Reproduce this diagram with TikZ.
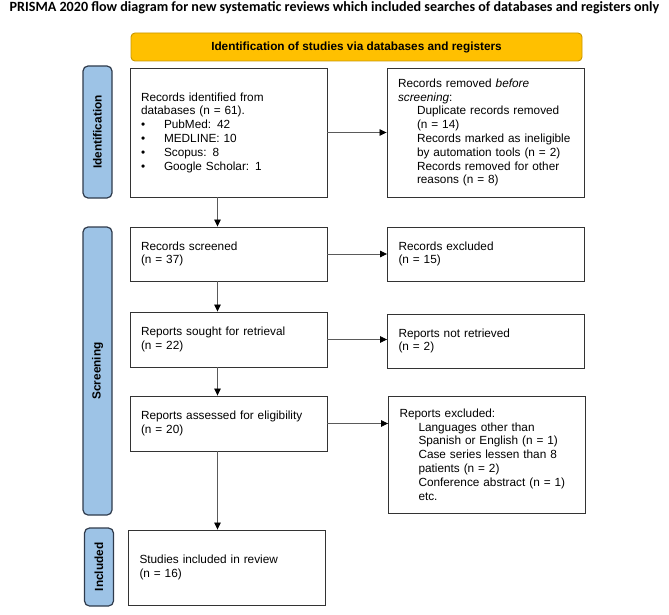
\documentclass[tikz,border=0pt]{standalone}
\usepackage{fontspec}
\setmainfont{Liberation Sans}
\newfontfamily\titlefont{Carlito}
\usepackage{xcolor}
\usetikzlibrary{arrows.meta,positioning,calc}

\definecolor{bannerfill}{HTML}{FFC000}
\definecolor{bannerline}{HTML}{C99700}
\definecolor{sidefill}{HTML}{9DC3E6}
\definecolor{sideline}{HTML}{2F3B4C}
\definecolor{arrline}{HTML}{5A5A5A}

\newcommand{\indt}{\hspace*{19pt}}
\newcommand{\bul}{\makebox[23pt][l]{\textbullet}}

\tikzset{
  boxfont/.style={font=\fontsize{11.8}{13.8}\selectfont},
  box/.style={boxfont,draw=black!80,line width=0.9pt,fill=white,
    text width=175pt,inner xsep=11pt,align=left},
  side/.style={font=\fontsize{11.8}{13.8}\selectfont\bfseries,draw=sideline,
    line width=1.2pt,fill=sidefill,rounded corners=5pt,rotate=90,
    minimum height=29pt,inner sep=0pt},
  arr/.style={draw=arrline,line width=0.8pt,
    -{Triangle[length=7pt,width=6.5pt,fill=black,color=black]}},
}

\begin{document}
\begin{tikzpicture}[x=1pt,y=-1pt]
  \useasboundingbox (0,0) rectangle (669,615);
  % title and banner
  \node[font=\titlefont\bfseries\fontsize{14.1}{16}\selectfont] (title) at (334.5,8)
    {PRISMA 2020 flow diagram for new systematic reviews which included searches of databases and registers only};
  \node[draw=bannerline,fill=bannerfill,line width=0.9pt,rounded corners=4pt,
    minimum width=451pt,minimum height=28pt,
    font=\fontsize{11.8}{13.8}\selectfont\bfseries] (banner) at (356.5,47)
    {Identification of studies via databases and registers};

  % phase labels
  \node[side,minimum width=132pt] (sideid) at (97.5,132) {Identification};
  \node[side,minimum width=288pt] (sidescr) at (97.5,371) {Screening};
  \node[side,minimum width=78pt] (sideinc) at (99,567) {Included};

  % left column
  \node[box,minimum height=129pt] (idrec) at (228.5,132.5)
    {Records identified from\\ databases (n = 61).\\
     \bul PubMed: 42\\ \bul MEDLINE: 10\\ \bul Scopus: 8\\ \bul Google Scholar: 1};
  \node[box,minimum height=54pt] (scr) at (228.5,254)
    {Records screened\\ (n = 37)};
  \node[box,minimum height=55pt] (sought) at (228.5,339.5)
    {Reports sought for retrieval\\ (n = 22)};
  \node[box,minimum height=55pt] (asse) at (228.5,423.5)
    {Reports assessed for eligibility\\ (n = 20)};
  \node[box,minimum height=75pt] (incl) at (227,567.5)
    {Studies included in review\\ (n = 16)};

  % right column
  \node[box,minimum height=129pt] (remov) at (485.5,132.5)
    {Records removed \textit{before}\\ \textit{screening}:\\
     \indt Duplicate records removed\\ \indt (n = 14)\\
     \indt Records marked as ineligible\\ \indt by automation tools (n = 2)\\
     \indt Records removed for other\\ \indt reasons (n = 8)};
  \node[box,minimum height=54pt] (excl) at (486,254)
    {Records excluded\\ (n = 15)};
  \node[box,minimum height=54pt] (notret) at (486,341)
    {Reports not retrieved\\ (n = 2)};
  \node[box,minimum height=117pt] (rexcl) at (487,454.5)
    {Reports excluded:\\
     \indt Languages other than\\ \indt Spanish or English (n = 1)\\
     \indt Case series lessen than 8\\ \indt patients (n = 2)\\
     \indt Conference abstract (n = 1)\\ \indt etc.};

  % arrows
  \draw[arr] ([xshift=-11pt]idrec.south) -- ([xshift=-11pt]idrec.south |- scr.north);
  \draw[arr] ([xshift=-11pt]scr.south) -- ([xshift=-11pt]scr.south |- sought.north);
  \draw[arr] ([xshift=-11pt]sought.south) -- ([xshift=-11pt]sought.south |- asse.north);
  \draw[arr] ([xshift=-11pt]asse.south) -- ([xshift=-11pt]asse.south |- incl.north);
  \draw[arr] (idrec.east) -- (idrec.east -| remov.west);
  \draw[arr] (scr.east) -- (scr.east -| excl.west);
  \draw[arr] (sought.east) -- (sought.east -| notret.west);
  \draw[arr] (asse.east) -- (asse.east -| rexcl.west);
\end{tikzpicture}
\end{document}
